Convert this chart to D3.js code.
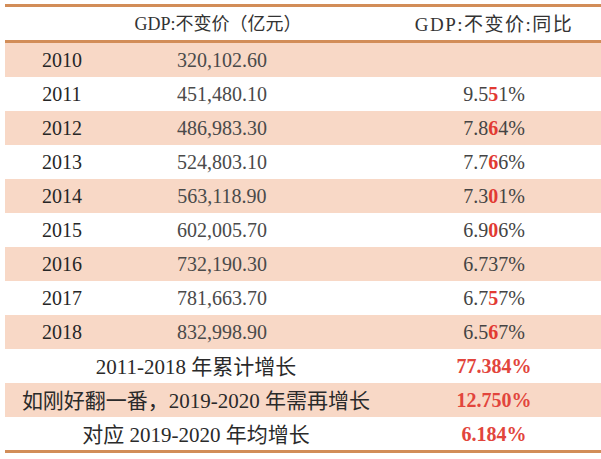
<!DOCTYPE html>
<html>
<head>
<meta charset="utf-8">
<script src="https://cdn.jsdelivr.net/npm/d3@7"></script>
<style>
html,body{margin:0;padding:0;background:#fff;}
svg{display:block;}
</style>
</head>
<body>
<svg id="chart" width="601" height="459"></svg>
<script>
const headers = ["", "GDP:不变价（亿元）", "GDP:不变价:同比"];
const years = ["2010","2011","2012","2013","2014","2015","2016","2017","2018"];
const gdpValues = [320102.60, 451480.10, 486983.30, 524803.10, 563118.90, 602005.70, 732190.30, 781663.70, 832998.90];
const yoyValues = [null, 9.551, 7.864, 7.766, 7.301, 6.906, 6.737, 6.757, 6.567];
const yoyMarked = [false, true, true, true, true, true, false, true, true];
const summaryLabels = ["2011-2018 年累计增长", "如刚好翻一番，2019-2020 年需再增长", "对应 2019-2020 年均增长"];
const summaryValues = [77.384, 12.750, 6.184];

const W = 601, H = 459;
const left = 5, right = 601;
const svg = d3.select("#chart");

const nRows = years.length + summaryLabels.length;
const y = d3.scaleBand().domain(d3.range(nRows)).range([43, 451]).padding(0);
const x = d3.scaleOrdinal().domain(["year","gdp","yoy","label"]).range([62, 222, 494, 196]);

const peach = "#F8D8C6";
const lineColor = "#D28D58";
const serif = "'Liberation Serif','Noto Sans CJK SC',serif";
const cjk = "'Liberation Serif','Noto Sans CJK SC',sans-serif";

// row backgrounds
svg.append("g").selectAll("rect").data(d3.range(nRows)).join("rect")
  .attr("x", left).attr("y", d => y(d)).attr("width", right - left).attr("height", y.bandwidth())
  .attr("fill", d => d % 2 === 0 ? peach : "#fff");

// rules
svg.append("rect").attr("x", left).attr("y", 4).attr("width", right - left).attr("height", 3).attr("fill", lineColor);
svg.append("rect").attr("x", left).attr("y", 40).attr("width", right - left).attr("height", 3).attr("fill", lineColor);
svg.append("rect").attr("x", left).attr("y", 450).attr("width", right - left).attr("height", 3).attr("fill", lineColor);

// header
const hy = 24;
svg.append("text").attr("x", x("gdp") - 4).attr("y", hy).attr("dy", "0.36em")
  .attr("text-anchor", "middle").attr("font-family", cjk).attr("font-size", 18).attr("fill", "#333")
  .text(headers[1]);
svg.append("text").attr("x", x("yoy")).attr("y", hy).attr("dy", "0.36em")
  .attr("text-anchor", "middle").attr("font-family", cjk).attr("font-size", 19).attr("letter-spacing", 1.5).attr("fill", "#333")
  .text(headers[2]);

const fmt = d3.format(",.2f");
const cy = i => y(i) + y.bandwidth() / 2;

// year rows
const rows = svg.append("g").selectAll("g").data(years).join("g");
rows.append("text").attr("x", x("year")).attr("y", (d, i) => cy(i)).attr("dy", "0.35em")
  .attr("text-anchor", "middle").attr("font-family", serif).attr("font-size", 20).attr("fill", "#262626")
  .text(d => d);
rows.append("text").attr("x", x("gdp")).attr("y", (d, i) => cy(i)).attr("dy", "0.35em")
  .attr("text-anchor", "middle").attr("font-family", serif).attr("font-size", 20).attr("fill", "#4a4a4a")
  .text((d, i) => fmt(gdpValues[i]));

rows.each(function(d, i) {
  const v = yoyValues[i];
  if (v == null) return;
  const s = v.toFixed(3) + "%";
  const t = d3.select(this).append("text").attr("x", x("yoy")).attr("y", cy(i)).attr("dy", "0.35em")
    .attr("text-anchor", "middle").attr("font-family", serif).attr("font-size", 20).attr("fill", "#444");
  if (yoyMarked[i]) {
    const k = s.indexOf(".") + 2;
    t.append("tspan").text(s.slice(0, k));
    t.append("tspan").attr("fill", "#E23A32").attr("font-weight", "bold").text(s.slice(k, k + 1));
    t.append("tspan").text(s.slice(k + 1));
  } else {
    t.text(s);
  }
});

// summary rows
const srows = svg.append("g").selectAll("g").data(summaryLabels).join("g");
srows.append("text").attr("x", x("label")).attr("y", (d, i) => cy(years.length + i)).attr("dy", "0.36em")
  .attr("text-anchor", "middle").attr("font-family", cjk).attr("font-size", 21).attr("fill", "#2a2a2a")
  .text(d => d);
srows.append("text").attr("x", x("yoy")).attr("y", (d, i) => cy(years.length + i)).attr("dy", "0.35em")
  .attr("text-anchor", "middle").attr("font-family", serif).attr("font-size", 20).attr("font-weight", "bold")
  .attr("fill", "#E2453C")
  .text((d, i) => summaryValues[i].toFixed(3) + "%");
</script>
</body>
</html>
